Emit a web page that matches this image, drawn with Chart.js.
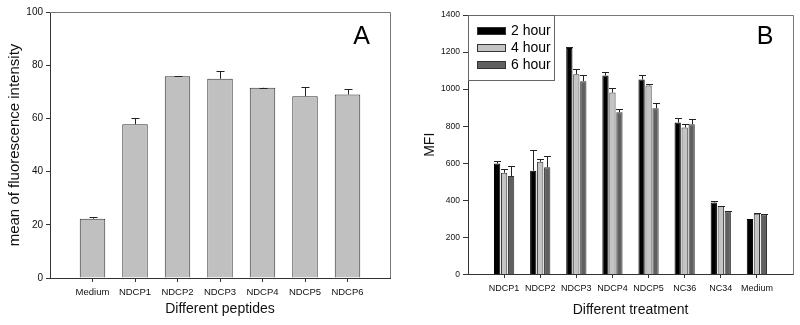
<!DOCTYPE html>
<html>
<head>
<meta charset="utf-8">
<script src="https://cdn.jsdelivr.net/npm/chart.js@4.4.0/dist/chart.umd.min.js"></script>
<style>
  html, body { margin: 0; padding: 0; background: #fff; }
  .wrap { display: flex; width: 800px; height: 325px; }
  canvas { display: block; }
</style>
</head>
<body>
<div class="wrap">
  <canvas id="chart-a" width="400" height="325"></canvas>
  <canvas id="chart-b" width="400" height="325"></canvas>
</div>
<script>
// Panel A - peptides
const peptides = ['Medium', 'NDCP1', 'NDCP2', 'NDCP3', 'NDCP4', 'NDCP5', 'NDCP6'];
const peptideMeans = [22.3, 57.8, 75.8, 74.9, 71.5, 68.3, 69.0];
const peptideErrors = [0.5, 2.2, 0.1, 2.9, 0.1, 3.4, 1.9];
const ticksA = [0, 20, 40, 60, 80, 100];

// Panel B - treatments over time
const treatments = ['NDCP1', 'NDCP2', 'NDCP3', 'NDCP4', 'NDCP5', 'NC36', 'NC34', 'Medium'];
const hour2 = [599, 560, 1222, 1074, 1052, 820, 389, 299];
const hour2Err = [14, 111, 3, 19, 22, 27, 8, 0];
const hour4 = [549, 608, 1081, 982, 1020, 793, 369, 328];
const hour4Err = [21, 14, 25, 22, 9, 20, 3, 2];
const hour6 = [531, 578, 1043, 876, 897, 811, 341, 324];
const hour6Err = [54, 61, 34, 16, 26, 26, 1, 2];
const ticksB = [0, 200, 400, 600, 800, 1000, 1200, 1400];

Chart.defaults.font.family = "'Liberation Sans', Arial, sans-serif";
Chart.defaults.color = '#111';

// empty slot on each side so bars sit at 1..n like the original plot
const pad = arr => [null, ...arr, null];

const errorBars = {
    id: 'errorBars',
    afterDatasetsDraw(chart, args, opts) {
        const ctx = chart.ctx;
        const yScale = chart.scales.y;
        ctx.save();
        ctx.strokeStyle = '#222';
        ctx.lineWidth = 1;
        chart.data.datasets.forEach((ds, i) => {
            const meta = chart.getDatasetMeta(i);
            meta.data.forEach((bar, j) => {
                const v = ds.data[j];
                const e = ds.errors ? ds.errors[j] : null;
                if (v == null || !e) return;
                const x = Math.round(bar.x) + 0.5;
                const yTop = Math.round(yScale.getPixelForValue(v + e)) + 0.5;
                ctx.beginPath();
                ctx.moveTo(x, bar.y);
                ctx.lineTo(x, yTop);
                ctx.moveTo(x - opts.cap / 2, yTop);
                ctx.lineTo(x + opts.cap / 2, yTop);
                ctx.stroke();
            });
        });
        ctx.restore();
    }
};

const frame = {
    id: 'frame',
    afterDraw(chart) {
        const {left, right, top, bottom} = chart.chartArea;
        const ctx = chart.ctx;
        ctx.save();
        ctx.strokeStyle = '#777';
        ctx.lineWidth = 1;
        ctx.beginPath();
        ctx.moveTo(left, Math.round(top) + 0.5);
        ctx.lineTo(Math.round(right) + 0.5, Math.round(top) + 0.5);
        ctx.lineTo(Math.round(right) + 0.5, bottom);
        ctx.stroke();
        ctx.restore();
    }
};

const panelLabel = {
    id: 'panelLabel',
    afterDraw(chart, args, opts) {
        const ctx = chart.ctx;
        ctx.save();
        ctx.fillStyle = '#000';
        ctx.font = "25px 'Liberation Sans', Arial, sans-serif";
        ctx.textAlign = 'center';
        ctx.textBaseline = 'middle';
        ctx.fillText(opts.text, chart.chartArea.right + opts.dx, chart.chartArea.top + opts.dy);
        ctx.restore();
    }
};

// legend box drawn inside the top-left corner of the plot
const boxLegend = {
    id: 'boxLegend',
    afterDraw(chart, args, opts) {
        if (!opts.show) return;
        const ctx = chart.ctx;
        const x0 = chart.chartArea.left;
        const y0 = chart.chartArea.top;
        ctx.save();
        ctx.strokeStyle = '#666';
        ctx.lineWidth = 1;
        ctx.strokeRect(Math.round(x0) + 0.5, Math.round(y0) + 0.5, 86, 65);
        ctx.font = "14px 'Liberation Sans', Arial, sans-serif";
        ctx.textBaseline = 'middle';
        chart.data.datasets.forEach((ds, i) => {
            const cy = y0 + 16 + i * 17;
            ctx.fillStyle = ds.backgroundColor;
            ctx.fillRect(x0 + 9, cy - 4, 29, 8);
            ctx.strokeStyle = '#333';
            ctx.strokeRect(Math.round(x0 + 9) + 0.5, Math.round(cy - 4) + 0.5, 28, 7);
            ctx.fillStyle = '#000';
            ctx.fillText(ds.label, x0 + 43, cy + 0.5);
        });
        ctx.restore();
    }
};

function axisGrid(len) {
    return {
        offset: false,
        drawOnChartArea: false,
        drawTicks: true,
        tickLength: len,
        tickColor: c => (c.tick && c.tick.label !== '') ? '#333' : 'rgba(0,0,0,0)'
    };
}

new Chart(document.getElementById('chart-a'), {
    type: 'bar',
    data: {
        labels: ['', ...peptides, ''],
        datasets: [{
            label: 'mean',
            data: pad(peptideMeans),
            errors: pad(peptideErrors),
            backgroundColor: '#c0c0c0',
            borderColor: '#333',
            borderWidth: 1,
            categoryPercentage: 0.6,
            barPercentage: 1
        }]
    },
    plugins: [errorBars, frame, panelLabel],
    options: {
        responsive: false,
        animation: false,
        layout: { padding: { top: 12, right: 10, left: 0, bottom: 0 } },
        plugins: {
            legend: { display: false },
            tooltip: { enabled: false },
            errorBars: { cap: 8 },
            panelLabel: { text: 'A', dx: -28.5, dy: 25 }
        },
        scales: {
            x: {
                offset: false,
                grid: axisGrid(4),
                border: { display: true, color: '#333' },
                ticks: { autoSkip: false, maxRotation: 0, padding: 5, font: { size: 9.5 }, color: '#111' },
                title: { display: true, text: 'Different peptides', font: { size: 14 }, color: '#111', padding: { top: 0, bottom: 7 } },
                afterFit: s => { s.height = 47; }
            },
            y: {
                min: 0,
                max: 100,
                afterBuildTicks: s => { s.ticks = ticksA.map(v => ({ value: v })); },
                grid: { drawOnChartArea: false, drawTicks: true, tickLength: 4, tickColor: '#333' },
                border: { display: true, color: '#333' },
                ticks: { padding: 3, font: { size: 10 }, color: '#111', callback: v => String(v) },
                title: { display: true, text: 'mean of fluorescence intensity', font: { size: 15 }, color: '#111', padding: { top: 6, bottom: 0 } },
                afterFit: s => { s.width = 50; }
            }
        }
    }
});

new Chart(document.getElementById('chart-b'), {
    type: 'bar',
    data: {
        labels: ['', ...treatments, ''],
        datasets: [
            { label: '2 hour', data: pad(hour2), errors: pad(hour2Err), backgroundColor: '#000', borderColor: '#000', borderWidth: 1 },
            { label: '4 hour', data: pad(hour4), errors: pad(hour4Err), backgroundColor: '#c4c4c4', borderColor: '#333', borderWidth: 1 },
            { label: '6 hour', data: pad(hour6), errors: pad(hour6Err), backgroundColor: '#606060', borderColor: '#333', borderWidth: 1 }
        ]
    },
    plugins: [errorBars, frame, panelLabel, boxLegend],
    options: {
        responsive: false,
        animation: false,
        categoryPercentage: 0.58,
        barPercentage: 0.9,
        layout: { padding: { top: 15, right: 7, left: 0, bottom: 0 } },
        plugins: {
            legend: { display: false },
            tooltip: { enabled: false },
            errorBars: { cap: 7 },
            panelLabel: { text: 'B', dx: -28, dy: 22.5 },
            boxLegend: { show: true }
        },
        scales: {
            x: {
                offset: false,
                grid: axisGrid(3.5),
                border: { display: true, color: '#333' },
                ticks: { autoSkip: false, maxRotation: 0, padding: 5, font: { size: 9 }, color: '#111' },
                title: { display: true, text: 'Different treatment', font: { size: 14 }, color: '#111', padding: { top: 0, bottom: 6 } },
                afterFit: s => { s.height = 50.5; }
            },
            y: {
                min: 0,
                max: 1400,
                afterBuildTicks: s => { s.ticks = ticksB.map(v => ({ value: v })); },
                grid: { drawOnChartArea: false, drawTicks: true, tickLength: 5, tickColor: '#333' },
                border: { display: true, color: '#333' },
                ticks: { padding: 3, font: { size: 8.5 }, color: '#111', callback: v => String(v) },
                title: { display: true, text: 'MFI', font: { size: 14 }, color: '#111', padding: { top: 22, bottom: 0 } },
                afterFit: s => { s.width = 68; }
            }
        }
    }
});
</script>
</body>
</html>
